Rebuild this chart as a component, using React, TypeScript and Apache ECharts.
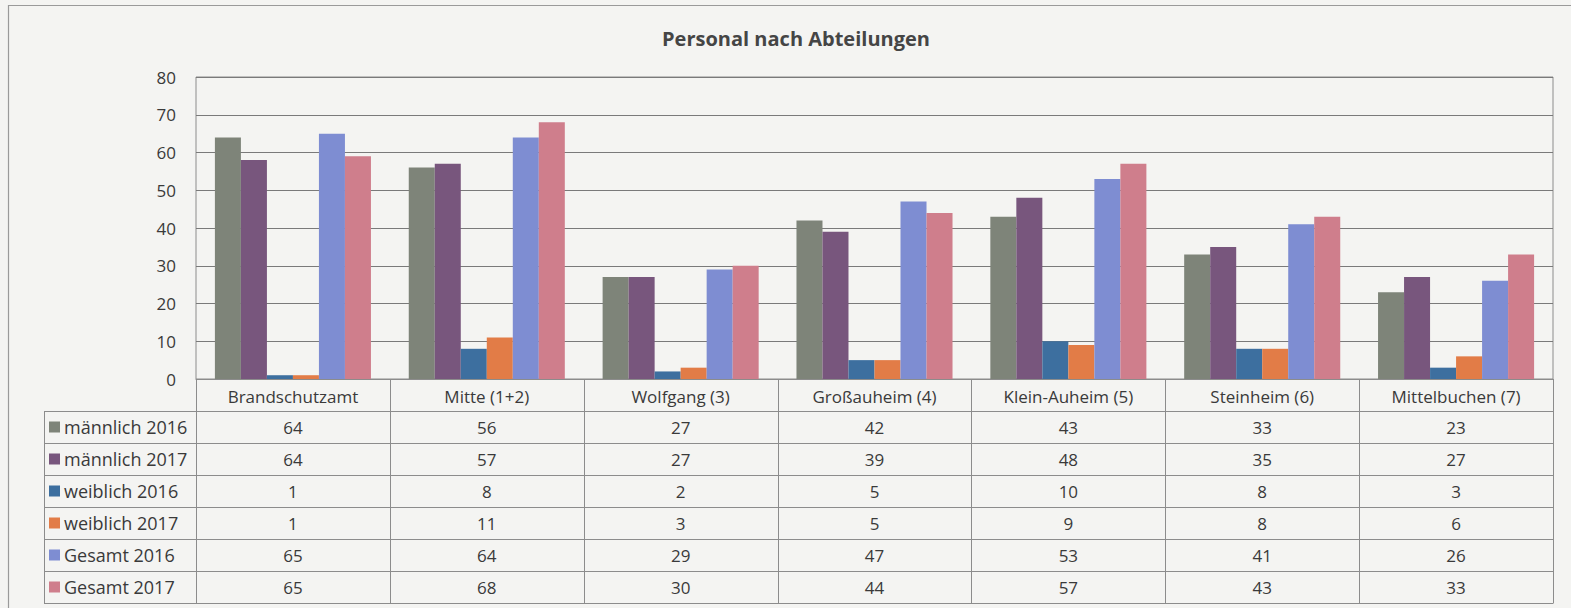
import React, { useEffect, useRef } from "react";
import * as echarts from "echarts";

// ---- data ----
const categories = [
  "Brandschutzamt",
  "Mitte (1+2)",
  "Wolfgang (3)",
  "Großauheim (4)",
  "Klein-Auheim (5)",
  "Steinheim (6)",
  "Mittelbuchen (7)",
];
const seriesNames = [
  "männlich 2016",
  "männlich 2017",
  "weiblich 2016",
  "weiblich 2017",
  "Gesamt 2016",
  "Gesamt 2017",
];
// bar heights as drawn
const barMaennlich2016 = [64, 56, 27, 42, 43, 33, 23];
const barMaennlich2017 = [58, 57, 27, 39, 48, 35, 27];
const barWeiblich2016 = [1, 8, 2, 5, 10, 8, 3];
const barWeiblich2017 = [1, 11, 3, 5, 9, 8, 6];
const barGesamt2016 = [65, 64, 29, 47, 53, 41, 26];
const barGesamt2017 = [59, 68, 30, 44, 57, 43, 33];
// values as printed in the data table
const tabMaennlich2016 = [64, 56, 27, 42, 43, 33, 23];
const tabMaennlich2017 = [64, 57, 27, 39, 48, 35, 27];
const tabWeiblich2016 = [1, 8, 2, 5, 10, 8, 3];
const tabWeiblich2017 = [1, 11, 3, 5, 9, 8, 6];
const tabGesamt2016 = [65, 64, 29, 47, 53, 41, 26];
const tabGesamt2017 = [65, 68, 30, 44, 57, 43, 33];
const yMin = 0;
const yMax = 80;
const yStep = 10;
const title = "Personal nach Abteilungen";

const barSeries = [
  barMaennlich2016,
  barMaennlich2017,
  barWeiblich2016,
  barWeiblich2017,
  barGesamt2016,
  barGesamt2017,
];
const tableRows = [
  tabMaennlich2016,
  tabMaennlich2017,
  tabWeiblich2016,
  tabWeiblich2017,
  tabGesamt2016,
  tabGesamt2017,
];

// ---- styles / layout ----
const colors = ["#7e8479", "#78567d", "#3d6f9f", "#e27c47", "#7e8dd2", "#cf7e8c"];
const FONT = "Open Sans";
const TEXT = "#3a3a3a";
const LINE = "#8c8c8c";
const FS = 17;
const W = 1571;
const H = 608;
const GL = 196;
const GR = 1553;
const GT = 77;
const GB = 379;
const HEADER_BOTTOM = 411;
const ROW_H = 32;
const LABEL_LEFT = 44;

export default function App() {
  const ref = useRef<HTMLDivElement>(null);
  useEffect(() => {
    if (!ref.current) return;
    const chart = echarts.init(ref.current, null, { renderer: "svg" });
    const catW = (GR - GL) / categories.length;
    const tableBottom = HEADER_BOTTOM + ROW_H * seriesNames.length;
    const graphics: any[] = [];

    // outer frame
    graphics.push({
      type: "rect",
      shape: { x: 8.5, y: 5.5, width: 1700, height: 800 },
      style: { fill: "none", stroke: "#9a9a9a", lineWidth: 1.2 },
      silent: true,
    });
    // vertical lines of the table (category boundaries)
    for (let i = 0; i <= categories.length; i++) {
      const x = Math.round(GL + i * catW) + 0.5;
      graphics.push({
        type: "line",
        shape: { x1: x, y1: GB, x2: x, y2: tableBottom },
        style: { stroke: LINE, lineWidth: 1 },
        silent: true,
      });
    }
    // label column left line
    graphics.push({
      type: "line",
      shape: { x1: LABEL_LEFT + 0.5, y1: HEADER_BOTTOM, x2: LABEL_LEFT + 0.5, y2: tableBottom },
      style: { stroke: LINE, lineWidth: 1 },
      silent: true,
    });
    // horizontal lines
    for (let r = 0; r <= seriesNames.length; r++) {
      const y = HEADER_BOTTOM + r * ROW_H + 0.5;
      graphics.push({
        type: "line",
        shape: { x1: LABEL_LEFT, y1: y, x2: GR + 0.5, y2: y },
        style: { stroke: LINE, lineWidth: 1 },
        silent: true,
      });
    }
    // row labels with legend keys
    seriesNames.forEach((name, r) => {
      const cy = HEADER_BOTTOM + r * ROW_H + ROW_H / 2;
      graphics.push({
        type: "rect",
        shape: { x: 49, y: cy - 5.5, width: 11, height: 11 },
        style: { fill: colors[r] },
        silent: true,
      });
      graphics.push({
        type: "text",
        x: 64,
        y: cy,
        style: {
          text: name,
          fill: TEXT,
          font: `${FS + 1}px "${FONT}"`,
          textAlign: "left",
          textVerticalAlign: "middle",
        },
        silent: true,
      });
    });
    // cell values
    tableRows.forEach((row, r) => {
      const cy = HEADER_BOTTOM + r * ROW_H + ROW_H / 2;
      row.forEach((v, c) => {
        graphics.push({
          type: "text",
          x: GL + (c + 0.5) * catW,
          y: cy,
          style: {
            text: String(v),
            fill: TEXT,
            font: `${FS}px "${FONT}"`,
            textAlign: "center",
            textVerticalAlign: "middle",
          },
          silent: true,
        });
      });
    });

    chart.setOption({
      animation: false,
      backgroundColor: "#f4f4f2",
      title: {
        text: title,
        left: 791,
        textAlign: "center",
        top: 23,
        textStyle: { fontFamily: FONT, fontSize: 20, fontWeight: "bold", color: "#454545" },
      },
      grid: {
        left: GL,
        right: W - GR,
        top: GT,
        bottom: H - GB,
        show: true,
        borderColor: LINE,
        borderWidth: 1,
        backgroundColor: "transparent",
      },
      xAxis: {
        type: "category",
        data: categories,
        axisLine: { show: true, lineStyle: { color: LINE, width: 1 } },
        axisTick: { show: false },
        axisLabel: {
          interval: 0,
          margin: 6,
          fontFamily: FONT,
          fontSize: FS,
          color: TEXT,
          verticalAlign: "top",
          lineHeight: 22,
        },
        splitLine: { show: false },
      },
      yAxis: {
        type: "value",
        min: yMin,
        max: yMax,
        interval: yStep,
        axisLine: { show: false },
        axisTick: { show: false },
        axisLabel: { margin: 20, fontFamily: FONT, fontSize: FS, color: TEXT },
        splitLine: { show: true, lineStyle: { color: "#7a7a7a", width: 1 } },
      },
      series: seriesNames.map((name, i) => ({
        name,
        type: "bar",
        data: barSeries[i],
        barGap: "0%",
        barCategoryGap: "19.5%",
        itemStyle: { color: colors[i] },
      })),
      graphic: graphics,
    });
    return () => chart.dispose();
  }, []);
  return (
    <div
      ref={ref}
      style={{ position: "fixed", left: 0, top: 0, width: W, height: H }}
    />
  );
}
